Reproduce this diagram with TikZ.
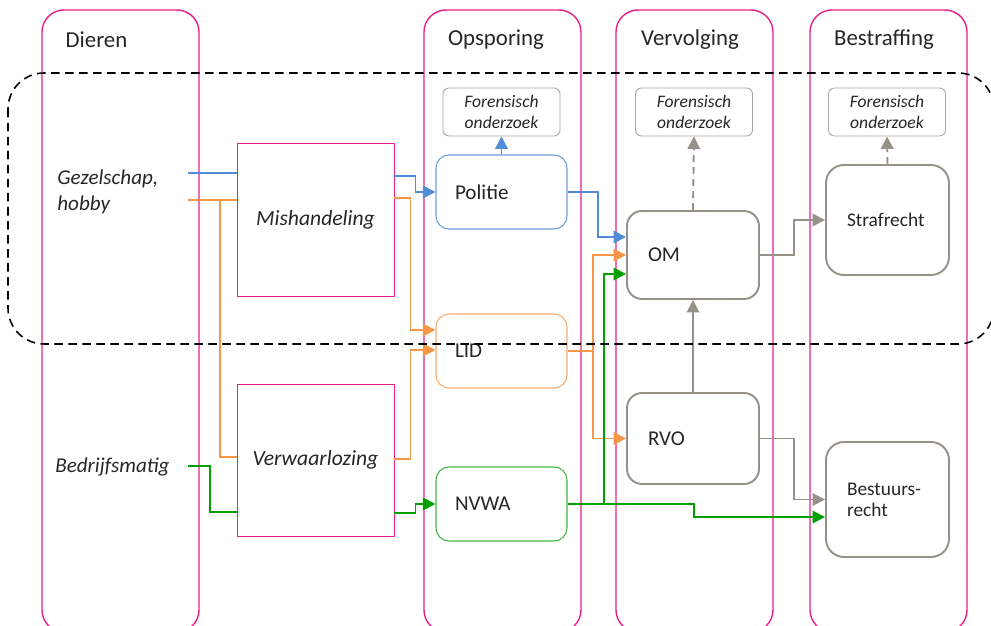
\documentclass[tikz,border=0pt]{standalone}
\usepackage{fontspec}
\setmainfont{Carlito}
\usepackage{xcolor}
\usepackage{tikz}
\usetikzlibrary{arrows.meta}
\definecolor{lanepink}{RGB}{233,30,140}
\definecolor{flowblue}{RGB}{80,140,215}
\definecolor{floworange}{RGB}{247,150,70}
\definecolor{flowgreen}{RGB}{0,160,0}
\definecolor{flowgray}{RGB}{150,145,137}
\definecolor{forgray}{RGB}{170,166,160}
\tikzset{
  lane/.style={draw=lanepink, line width=0.8pt, rounded corners=4.4mm},
  lanetitle/.style={font=\fontsize{13}{15.6}\selectfont, text=black!85},
  srctext/.style={inner sep=0pt, align=left, font=\fontsize{12}{14.6}\selectfont\itshape, text=black!85},
  actbox/.style={draw=lanepink, line width=0.55pt, fill=white, minimum width=31.4mm,
    font=\fontsize{12.3}{14.8}\selectfont\itshape, text=black!85},
  instbox/.style={rounded corners=2.6mm, line width=0.6pt, fill=white, minimum width=26.2mm,
    minimum height=14.8mm, text width=18.6mm, inner xsep=3.8mm, align=left,
    font=\fontsize{12}{14.4}\selectfont, text=black!85},
  ombox/.style={draw=flowgray, rounded corners=3mm, line width=1.1pt, fill=white,
    minimum width=26.4mm, text width=18mm, inner xsep=4.2mm, align=left,
    font=\fontsize{12}{14.4}\selectfont, text=black!85},
  rechtbox/.style={draw=flowgray, rounded corners=3.6mm, line width=1.1pt, fill=white,
    minimum width=24.6mm, text width=16.2mm, inner xsep=4.2mm, align=left,
    font=\fontsize{11}{12}\selectfont, text=black!85},
  forbox/.style={draw=forgray, rounded corners=1.2mm, line width=0.5pt, fill=white,
    minimum width=23.4mm, minimum height=9.6mm, inner sep=0pt, align=center,
    font=\fontsize{10}{12}\selectfont\itshape, text=black!85},
  feed/.style={line width=1.1pt},
  flow/.style={line width=1.1pt, -{Triangle[length=2.5mm,width=2.5mm]}},
  forflow/.style={flow, draw=flowgray, dash pattern=on 1.4mm off 1mm},
  scopeline/.style={line width=0.9pt, rounded corners=7.2mm, dash pattern=on 1.7mm off 1.1mm},
}
\begin{document}
\begin{tikzpicture}[x=0.2mm, y=-0.2mm]
  \useasboundingbox (0,0) rectangle (991,626);
  % lanes
  \foreach \xa/\xb in {42/199, 424/581, 616/773, 810/967}
    \draw[lane] (\xa,10) rectangle (\xb,632);
  \node[lanetitle] (dieren) at (96.5,40) {Dieren};
  \node[lanetitle] (opsporing) at (496,40) {Opsporing};
  \node[lanetitle] (vervolging) at (690,40) {Vervolging};
  \node[lanetitle] (bestraffing) at (884,40) {Bestraffing};

  % dieren en handelingen
  \node[srctext, anchor=west] (gezelschap) at (57,192) {Gezelschap,\\hobby};
  \node[srctext, anchor=west] (bedrijf) at (55,467) {Bedrijfsmatig};
  \node[actbox, minimum height=30.6mm] (mis) at (315.5,219.5) {Mishandeling};
  \node[actbox, minimum height=30.4mm] (verw) at (315.5,460) {Verwaarlozing};
  \coordinate (gzb) at (188,173);
  \coordinate (gzo) at (188,200);
  \coordinate (bdg) at (188,466);

  % instanties
  \node[forbox] (for1) at (501.5,112) {Forensisch\\onderzoek};
  \node[forbox] (for2) at (694,112) {Forensisch\\onderzoek};
  \node[forbox] (for3) at (887,112) {Forensisch\\onderzoek};
  \node[instbox, draw=flowblue!85] (pol) at (501.5,192) {Politie};
  \node[instbox, draw=floworange!80] (lid) at (501.5,351) {LID};
  \node[instbox, draw=flowgreen!75] (nvwa) at (501.5,504) {NVWA};
  \node[ombox, minimum height=17.6mm] (om) at (693,255) {OM};
  \node[ombox, minimum height=18.2mm] (rvo) at (693,438.5) {RVO};
  \node[rechtbox, minimum height=22mm] (straf) at (887.5,220) {Strafrecht};
  \node[rechtbox, minimum height=23mm] (bestuur) at (887.5,499.5) {Bestuurs-\\recht};

  % toevoer
  \draw[feed, flowblue] (gzb) -- (gzb -| mis.west);
  \draw[feed, floworange] (gzo) -- (gzo -| mis.west);
  \draw[feed, floworange] (gzo -| 220,0) |- (verw.west |- 0,457);
  \draw[feed, flowgreen] (bdg) -- ++(22,0) |- (verw.west |- 0,512);

  % stromen
  \draw[flow, flowblue] (mis.east |- 0,176) -- ++(21,0) |- (pol.west);
  \draw[flow, floworange] (mis.east |- 0,198) -- ++(16,0) |- (lid.west |- 0,330);
  \draw[flow, floworange] (verw.east |- 0,459) -- ++(16,0) |- (lid.west |- 0,350);
  \draw[flow, flowgreen] (verw.east |- 0,513) -- ++(21,0) |- (nvwa.west);
  \draw[flow, flowblue] (pol.north) -- (for1.south);
  \draw[flow, flowblue] (pol.east) -- ++(30,0) |- (om.west |- 0,237);
  \draw[flow, floworange] (lid.east) -- ++(25,0) |- (om.west);
  \draw[flow, floworange] (lid.east) -- ++(25,0) |- (rvo.west);
  \draw[flow, flowgreen] (nvwa.east) -- ++(36,0) |- (om.west |- 0,274);
  \draw[flow, flowgreen] (nvwa.east) -- ++(126,0) |- (bestuur.west |- 0,517);
  \draw[flow, flowgray] (rvo.north) -- (om.south);
  \draw[flow, flowgray] (om.east) -- ++(34,0) |- (straf.west);
  \draw[flow, flowgray] (rvo.east) -- ++(34,0) |- (bestuur.west);
  \draw[forflow] (om.north) -- (for2.south);
  \draw[forflow] (straf.north) -- (for3.south);

  % strafrechtelijk kader
  \draw[scopeline] (8,73) rectangle (994,344);
\end{tikzpicture}
\end{document}
